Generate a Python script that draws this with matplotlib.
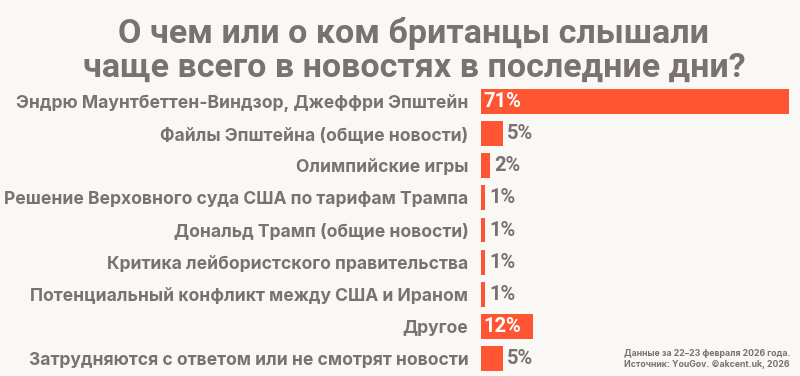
import matplotlib
matplotlib.use("Agg")
import matplotlib.pyplot as plt

categories = [
    "Эндрю Маунтбеттен-Виндзор, Джеффри Эпштейн",
    "Файлы Эпштейна (общие новости)",
    "Олимпийские игры",
    "Решение Верховного суда США по тарифам Трампа",
    "Дональд Трамп (общие новости)",
    "Критика лейбористского правительства",
    "Потенциальный конфликт между США и Ираном",
    "Другое",
    "Затрудняются с ответом или не смотрят новости",
]
values = [71, 5, 2, 1, 1, 1, 1, 12, 5]
value_labels = ["71%", "5%", "2%", "1%", "1%", "1%", "1%", "12%", "5%"]
title = "О чем или о ком британцы слышали\nчаще всего в новостях в последние дни?"
footnote = "Данные за 22–23 февраля 2026 года.\nИсточник: YouGov. ©akcent.uk, 2026"

BG = "#FAF8F4"
BAR = "#FF5533"
TXT = "#7A726E"

fig = plt.figure(figsize=(8, 3.76), dpi=100, facecolor=BG)
ax = fig.add_axes([481/800, 1 - 375/376, (789-481)/800, (375-85)/376])
ax.set_facecolor(BG)
ypos = list(range(len(categories)))
ax.barh(ypos, values, height=0.77, color=BAR)
ax.set_xlim(0, 71)
ax.set_ylim(len(categories) - 0.5, -0.5)
for s in ax.spines.values():
    s.set_visible(False)
ax.set_xticks([])
ax.set_yticks(ypos)
ax.set_yticklabels(categories, fontsize=12.6, fontweight="bold", color=TXT, family=["Inter", "DejaVu Sans"])
ax.tick_params(axis="y", length=0, pad=9)

for y, v, lab in zip(ypos, values, value_labels):
    if v >= 10:
        ax.text(0.6, y, lab, color="white", fontsize=14.5, fontweight="bold", va="center", ha="left",
                family=["Roboto", "DejaVu Sans"])
    else:
        ax.text(v + 1.0, y, lab, color=TXT, fontsize=14.5, fontweight="bold", va="center", ha="left",
                family=["Roboto", "DejaVu Sans"])

fig.text(414/800, 1 - 50/376, title, ha="center", va="center", fontsize=24.5, fontweight="bold",
         color=TXT, family=["Roboto", "DejaVu Sans"], linespacing=1.08)
fig.text(790/800, 1 - 359/376, footnote, ha="right", va="center", fontsize=6.3, fontweight="bold",
         color=TXT, family=["Inter", "DejaVu Sans"], linespacing=1.15)

fig.savefig("out.png", dpi=100, facecolor=BG)
